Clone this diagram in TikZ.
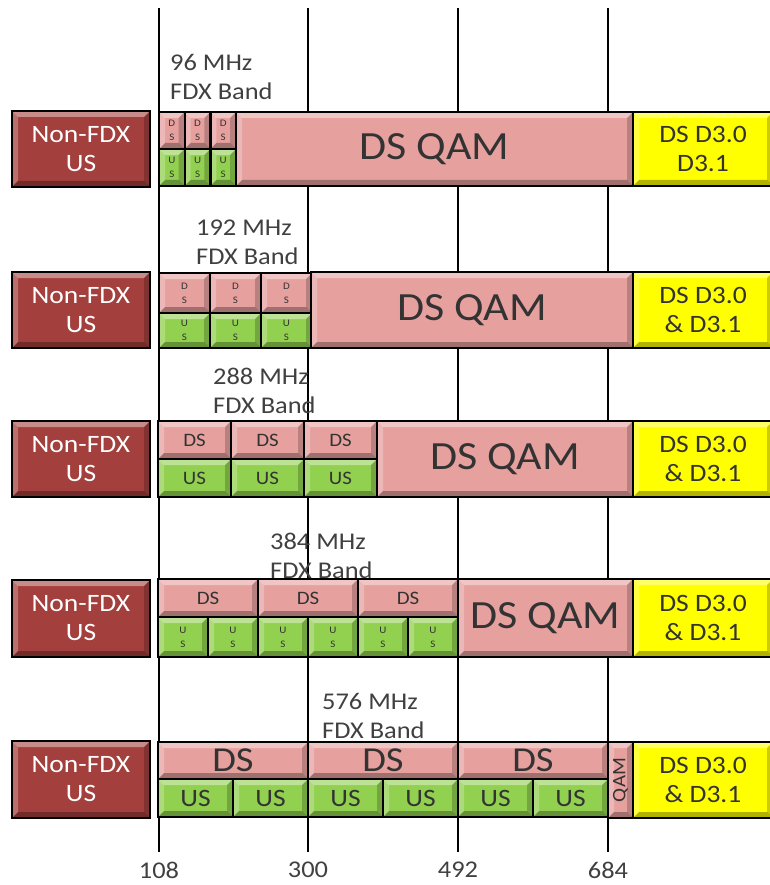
\documentclass[tikz,border=0pt]{standalone}
\usepackage{fontspec}
\setmainfont{Carlito}[FakeStretch=1.1]
\usepackage{graphicx}

\definecolor{nonfdx}{HTML}{A33F3C}
\definecolor{dsq}{HTML}{E6A19F}
\definecolor{usg}{HTML}{92D050}
\definecolor{legacy}{HTML}{FFFF00}
\definecolor{ink}{HTML}{333333}
\definecolor{note}{HTML}{404040}

\newcommand\qamfont{\fontsize{40}{42}\selectfont}
\newcommand\dsfont{\fontsize{35}{37}\selectfont}
\newcommand\nffont{\fontsize{25}{29}\selectfont}
\newcommand\lblfont{\fontsize{24}{29}\selectfont}
\newcommand\midfont{\fontsize{19}{21}\selectfont}
\newcommand\subfont{\fontsize{10}{14}\selectfont}

\tikzset{
 bevel/.style={path picture={
  \coordinate (bnw) at (path picture bounding box.north west);
  \coordinate (bne) at (path picture bounding box.north east);
  \coordinate (bsw) at (path picture bounding box.south west);
  \coordinate (bse) at (path picture bounding box.south east);
  \fill[white,opacity=.4] (bnw) -- (bne) -- ([shift={(-6pt,-6pt)}]bne) -- ([shift={(6pt,-6pt)}]bnw) -- cycle;
  \fill[white,opacity=.25] (bnw) -- ([shift={(6pt,-6pt)}]bnw) -- ([shift={(6pt,6pt)}]bsw) -- (bsw) -- cycle;
  \fill[black,opacity=.3] (bsw) -- (bse) -- ([shift={(-6pt,6pt)}]bse) -- ([shift={(6pt,6pt)}]bsw) -- cycle;
  \fill[black,opacity=.2] (bne) -- (bse) -- ([shift={(-6pt,6pt)}]bse) -- ([shift={(-6pt,-6pt)}]bne) -- cycle;
 }}
}

\begin{document}
\begin{tikzpicture}[x=1pt,y=-1pt,
 box/.style={draw=black,line width=2.4pt,fill=#1,anchor=north west,inner sep=0pt,outer sep=0pt,text=ink,align=center,bevel},
 band/.style={font=\lblfont,text=note,align=left,anchor=north west,inner sep=0pt},
 axis/.style={font=\lblfont,text=note,anchor=north,inner sep=0pt},
 grid/.style={line width=1.8pt,black,shorten >=10pt}]
\useasboundingbox (0,0) rectangle (769,885);

% frequency markers
\foreach \x/\f in {159/108,308/300,458/492,608/684}{
  \node[axis] (f\f) at (\x,862) {\f};
  \coordinate (top\f) at (\x,8);
  \draw[grid] (top\f) -- (f\f);
}

% band width labels
\node[band] (bw96) at (170,54) {96 MHz\\FDX Band};
\node[band] (bw192) at (196,220) {192 MHz\\FDX Band};
\node[band] (bw288) at (213,368) {288 MHz\\FDX Band};
\node[band] (bw384) at (270,533) {384 MHz\\FDX Band};
\node[band] (bw576) at (322,693) {576 MHz\\FDX Band};

% row 1: 96 MHz
\node[box=nonfdx,text=white,font=\nffont,minimum width=138pt,minimum height=76pt] (nf1) at (12,111) {Non-FDX\\US};
\foreach \i in {0,1,2}{
  \node[box=dsq,font=\subfont,minimum width=25.7pt,minimum height=37pt] (ds1\i) at (159+25.7*\i,112) {D\\S};
  \node[box=usg,font=\subfont,minimum width=25.7pt,minimum height=37pt] (us1\i) at (159+25.7*\i,149) {U\\S};
}
\node[box=dsq,font=\qamfont,minimum width=397pt,minimum height=74pt] (qam1) at (236,112) {DS QAM};
\node[box=legacy,font=\nffont,minimum width=140pt,minimum height=74pt] (leg1) at (633,112) {DS D3.0\\D3.1};

% row 2: 192 MHz
\node[box=nonfdx,text=white,font=\nffont,minimum width=138pt,minimum height=76pt] (nf2) at (12,272) {Non-FDX\\US};
\foreach \i in {0,1,2}{
  \node[box=dsq,font=\subfont,minimum width=51pt,minimum height=40pt] (ds2\i) at (159+51*\i,273) {D\\S};
  \node[box=usg,font=\subfont,minimum width=51pt,minimum height=35pt] (us2\i) at (159+51*\i,313) {U\\S};
}
\node[box=dsq,font=\qamfont,minimum width=322pt,minimum height=76pt] (qam2) at (311,272) {DS QAM};
\node[box=legacy,font=\nffont,minimum width=140pt,minimum height=76pt] (leg2) at (633,272) {DS D3.0\\\& D3.1};

% row 3: 288 MHz
\node[box=nonfdx,text=white,font=\nffont,minimum width=138pt,minimum height=76pt] (nf3) at (12,421) {Non-FDX\\US};
\foreach \i in {0,1,2}{
  \node[box=dsq,font=\midfont,minimum width=73pt,minimum height=38pt] (ds3\i) at (158+73*\i,421) {DS};
  \node[box=usg,font=\midfont,minimum width=73pt,minimum height=38pt] (us3\i) at (158+73*\i,459) {US};
}
\node[box=dsq,font=\qamfont,minimum width=256pt,minimum height=76pt] (qam3) at (377,421) {DS QAM};
\node[box=legacy,font=\nffont,minimum width=140pt,minimum height=76pt] (leg3) at (633,421) {DS D3.0\\\& D3.1};

% row 4: 384 MHz
\node[box=nonfdx,text=white,font=\nffont,minimum width=138pt,minimum height=77pt] (nf4) at (12,580) {Non-FDX\\US};
\foreach \i in {0,1,2}
  \node[box=dsq,font=\midfont,minimum width=100pt,minimum height=38pt] (ds4\i) at (158+100*\i,579) {DS};
\foreach \i in {0,...,5}
  \node[box=usg,font=\subfont,minimum width=50pt,minimum height=40pt] (us4\i) at (158+50*\i,617) {U\\S};
\node[box=dsq,font=\qamfont,minimum width=175pt,minimum height=78pt] (qam4) at (458,579) {DS QAM};
\node[box=legacy,font=\nffont,minimum width=140pt,minimum height=78pt] (leg4) at (633,579) {DS D3.0\\\& D3.1};

% row 5: 576 MHz
\node[box=nonfdx,text=white,font=\nffont,minimum width=138pt,minimum height=77pt] (nf5) at (12,741) {Non-FDX\\US};
\foreach \i in {0,1,2}
  \node[box=dsq,font=\dsfont,minimum width=150pt,minimum height=37pt] (ds5\i) at (158+150*\i,742) {DS};
\foreach \i in {0,...,5}
  \node[box=usg,font=\nffont,minimum width=75pt,minimum height=38pt] (us5\i) at (158+75*\i,779) {US};
\node[box=dsq,font=\midfont,minimum width=25pt,minimum height=76pt] (qam5) at (608,742) {\rotatebox{90}{QAM}};
\node[box=legacy,font=\nffont,minimum width=140pt,minimum height=76pt] (leg5) at (633,742) {DS D3.0\\\& D3.1};
\end{tikzpicture}
\end{document}
